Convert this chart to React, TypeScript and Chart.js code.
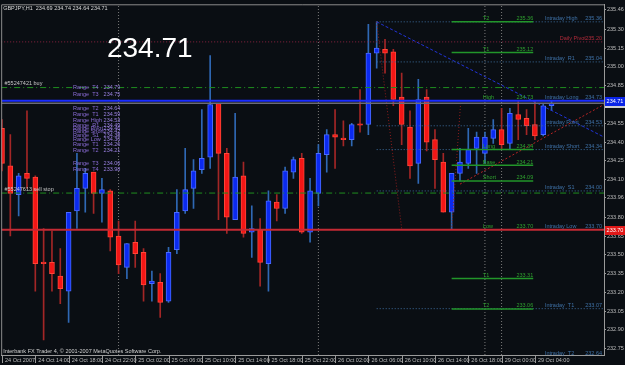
import React, { useEffect, useRef } from "react";
import { Chart, registerables } from "chart.js";

Chart.register(...registerables);

// ---------- text ----------
const symbolTitle = "GBPJPY,H1  234.69 234.74 234.64 234.71";
const bigPrice = "234.71";
const copyright = "Interbank FX Trader 4, © 2001-2007 MetaQuotes Software Corp.";

// ---------- candles (H1, bar index 0 = 24 Oct 10:00) ----------
const opens = [
  234.51, 234.21, 233.98, 234.15, 234.12, 233.44, 233.44, 233.33, 233.21, 233.85,
  234.03, 234.16, 233.99, 234.01, 233.65, 233.40, 233.60, 233.52, 233.27, 233.28,
  233.13, 233.54, 233.85, 234.03, 234.18, 234.28, 234.71, 234.31, 233.78, 234.13,
  233.68, 233.70, 233.43, 233.92, 233.87, 234.16, 234.27, 233.68, 233.99, 234.30,
  234.46, 234.43, 234.42, 234.545, 234.54, 235.11, 235.14, 235.12, 234.76, 234.52,
  234.23, 234.76, 234.42, 234.24, 233.84, 234.15, 234.23, 234.35, 234.31, 234.43,
  234.50, 234.39, 234.62, 234.59, 234.54, 234.46, 234.69,
];
const highs = [
  234.58, 234.46, 234.15, 234.65, 234.13, 233.71, 233.69, 233.55, 233.84, 234.31,
  234.19, 234.16, 234.11, 234.02, 233.77, 233.59, 233.77, 233.55, 233.37, 233.35,
  233.56, 234.02, 234.35, 234.26, 234.66, 235.09, 234.71, 234.35, 234.63, 234.24,
  233.89, 233.79, 234.01, 233.98, 234.20, 234.28, 234.31, 234.11, 234.38, 234.50,
  234.66, 234.57, 234.55, 234.82, 235.34, 235.36, 235.22, 235.14, 234.95, 234.65,
  234.90, 234.82, 234.50, 234.31, 234.15, 234.35, 234.51, 234.48, 234.48, 234.58,
  234.67, 234.67, 234.73, 234.66, 234.73, 234.71, 234.73,
];
const lows = [
  234.17, 233.65, 233.81, 234.03, 233.21, 232.82, 233.21, 233.11, 232.96, 233.71,
  233.84, 233.83, 233.76, 233.53, 233.35, 233.31, 233.40, 233.13, 233.13, 233.00,
  233.12, 233.51, 233.83, 233.87, 234.15, 234.19, 233.78, 233.67, 233.78, 233.64,
  233.48, 233.25, 233.21, 233.77, 233.83, 234.11, 233.67, 233.60, 233.89, 234.16,
  234.19, 234.37, 234.37, 234.48, 234.46, 234.99, 234.95, 234.69, 234.38, 234.11,
  234.07, 234.33, 234.03, 233.84, 233.70, 234.09, 234.19, 234.15, 234.23, 234.39,
  234.34, 234.34, 234.42, 234.46, 234.42, 234.45, 234.65,
];
const closes = [
  234.23, 233.99, 234.13, 234.11, 233.43, 233.43, 233.35, 233.23, 233.84, 234.03,
  234.15, 233.99, 234.02, 233.64, 233.42, 233.59, 233.51, 233.26, 233.29, 233.12,
  233.52, 233.84, 234.02, 234.17, 234.27, 234.70, 234.31, 233.80, 234.12, 233.67,
  233.71, 233.44, 233.93, 233.87, 234.17, 234.26, 233.68, 234.01, 234.31, 234.46,
  234.44, 234.42, 234.54, 234.535, 235.11, 235.15, 235.11, 234.74, 234.54, 234.21,
  234.74, 234.40, 234.26, 233.84, 234.15, 234.24, 234.34, 234.44, 234.44, 234.50,
  234.38, 234.63, 234.58, 234.53, 234.45, 234.69, 234.71,
];

// ---------- axes ----------
const xTickIndex = [0, 4, 8, 12, 16, 20, 24, 28, 32, 36, 40, 44, 48, 52, 56, 60, 64];
const xTickText = [
  "24 Oct 2007", "24 Oct 14:00", "24 Oct 18:00", "24 Oct 22:00",
  "25 Oct 02:00", "25 Oct 06:00", "25 Oct 10:00", "25 Oct 14:00",
  "25 Oct 18:00", "25 Oct 22:00", "26 Oct 02:00", "26 Oct 06:00",
  "26 Oct 10:00", "26 Oct 14:00", "26 Oct 18:00", "29 Oct 00:00", "29 Oct 04:00",
];
const yTickValues = [
  235.46, 235.30, 235.15, 235.00, 234.85, 234.70, 234.55, 234.40, 234.25, 234.10,
  233.96, 233.80, 233.65, 233.50, 233.35, 233.20, 233.05, 232.90, 232.75,
];
const separatorIndex = [14, 38, 58, 60];

// ---------- levels ----------
const bidPrice = 234.71;
const longLevel = 234.73;
const lowLevel = 233.70;
const dailyPivot = 235.20;
const dailyPivotText = "235.20";
const orderBuyPrice = 234.835;
const orderSellStopPrice = 233.993;
const orderBuyText = "#55247421 buy";
const orderSellStopText = "#55247613 sell stop";

const intradayNames = ["Intraday High", "Intraday  R1", "Intraday Long", "Intraday Point", "Intraday Short", "Intraday  S1", "Intraday Low", "Intraday  T1", "Intraday  T2"];
const intradayPrices = [235.36, 235.04, 234.73, 234.53, 234.34, 234.01, 233.70, 233.07, 232.69];
const intradayTexts = ["235.36", "235.04", "234.73", "234.53", "234.34", "234.00", "233.70", "233.07", "232.64"];
const intradayDotted = [true, true, false, true, true, true, false, true, false];

const targetNames = ["T2", "T1", "High", "Long", "Base", "Short", "Low", "T1", "T2"];
const targetPrices = [235.36, 235.115, 234.73, 234.34, 234.215, 234.09, 233.70, 233.31, 233.067];
const targetTexts = ["235.36", "235.12", "234.73", "234.34", "234.21", "234.09", "233.70", "233.31", "233.06"];
const targetHasLine = [true, true, false, true, true, true, false, true, true];

const rangeNames = ["Range  T4", "Range  T3", "Range  T2", "Range  T1", "Range High", "Range  R1", "Range Pivot", "Range Short", "Range  S1", "Range Low", "Range  T1", "Range  T2", "Range  T3", "Range  T4"];
const rangeTexts = ["234.79", "234.75", "234.64", "234.59", "234.53", "234.49", "234.46", "234.42", "234.38", "234.36", "234.26", "234.21", "234.06", "233.98"];
const rangePrices = [234.834, 234.776, 234.670, 234.624, 234.576, 234.536, 234.508, 234.481, 234.449, 234.421, 234.384, 234.332, 234.228, 234.181];

// trend / zigzag lines: [startIndex, startPrice, endIndex, endPrice]
const blueTrend = [45, 235.36, 72.3, 234.44];
const redTrend = [55, 234.064, 72.3, 234.70];
const zigA = [45, 235.36, 48, 233.71];
const zigB = [54, 233.70, 55.1, 234.73];

const X_MIN = -0.1;
const X_MAX = 72.3;
const Y_MIN = 232.7;
const Y_MAX = 235.5;

const FONT = "'Liberation Sans', Arial, sans-serif";

function seg(x1: number, y1: number, x2: number, y2: number, color: string, width: number, dash: number[], order: number) {
  return {
    type: "line" as const,
    data: [{ x: x1, y: y1 }, { x: x2, y: y2 }],
    borderColor: color,
    borderWidth: width,
    borderDash: dash,
    pointRadius: 0,
    pointHoverRadius: 0,
    fill: false,
    tension: 0,
    order,
  };
}

export default function App() {
  const ref = useRef<HTMLCanvasElement>(null);

  useEffect(() => {
    const canvas = ref.current;
    if (!canvas) return;

    const up = closes.map((c, i) => c >= opens[i]);
    const bodyFill = up.map((u) => (u ? "#0b2af0" : "#f31616"));
    const bodyEdge = up.map((u) => (u ? "#4a6aff" : "#ff4638"));
    const wickCol = up.map((u) => (u ? "#2f68b4" : "#a32626"));

    const bodies = opens.map((o, i) => {
      const c = closes[i];
      if (Math.abs(o - c) < 0.012) {
        const m = (o + c) / 2;
        return { x: i, y: [m - 0.006, m + 0.006] };
      }
      return { x: i, y: [o, c] };
    });
    const wicks = lows.map((l, i) => ({ x: i, y: [l, highs[i]] }));

    const datasets: any[] = [];
    // separators (behind)
    separatorIndex.forEach((s) => datasets.push(seg(s, Y_MIN, s, Y_MAX, "#7a7a7a", 1, [1, 2], 9)));
    datasets.push({
      type: "bar", data: wicks, backgroundColor: wickCol, borderWidth: 0,
      barThickness: 1, grouped: false, order: 6,
    });
    datasets.push({
      type: "bar", data: bodies, backgroundColor: bodyFill, borderColor: bodyEdge,
      borderWidth: 1, borderSkipped: false, barThickness: 5, grouped: false, order: 5,
    });
    // full-width levels
    datasets.push(seg(X_MIN, dailyPivot, X_MAX, dailyPivot, "#8c2440", 1, [1, 2], 2));
    datasets.push(seg(X_MIN, orderBuyPrice, X_MAX, orderBuyPrice, "#1f8f1f", 1, [6, 3, 1, 3], 2));
    datasets.push(seg(X_MIN, orderSellStopPrice, X_MAX, orderSellStopPrice, "#1f8f1f", 1, [6, 3, 1, 3], 2));
    datasets.push(seg(X_MIN, bidPrice, X_MAX, bidPrice, "#6a6a78", 1.5, [], 2));
    datasets.push(seg(X_MIN, longLevel, X_MAX, longLevel, "#1a2cff", 2, [], 1));
    datasets.push(seg(X_MIN, lowLevel, X_MAX, lowLevel, "#c42a34", 2, [], 1));
    // intraday dotted levels
    intradayPrices.forEach((p, k) => {
      if (intradayDotted[k]) datasets.push(seg(45, p, X_MAX, p, "#3d6d9d", 1, [1, 2], 3));
    });
    // target green lines
    targetPrices.forEach((p, k) => {
      if (targetHasLine[k]) datasets.push(seg(54, p, 63.8, p, "#22962a", 1.5, [], 2));
    });
    // trend lines
    datasets.push(seg(blueTrend[0], blueTrend[1], blueTrend[2], blueTrend[3], "#2234d8", 1, [3, 2], 2));
    datasets.push(seg(redTrend[0], redTrend[1], redTrend[2], redTrend[3], "#b82424", 1, [2, 2], 2));
    datasets.push(seg(zigA[0], zigA[1], zigA[2], zigA[3], "#8e1c1c", 1, [1, 2], 2));
    datasets.push(seg(zigB[0], zigB[1], zigB[2], zigB[3], "#8e1c1c", 1, [1, 2], 2));

    const bgPlugin = {
      id: "bg",
      beforeDraw(chart: any) {
        const { ctx, width, height } = chart;
        ctx.save();
        ctx.fillStyle = "#0a0e13";
        ctx.fillRect(0, 0, width, height);
        ctx.restore();
      },
    };

    const overlayPlugin = {
      id: "overlay",
      afterDraw(chart: any) {
        const { ctx, chartArea: a, scales } = chart;
        const X = (v: number) => scales.x.getPixelForValue(v);
        const Y = (v: number) => scales.y.getPixelForValue(v);
        ctx.save();
        // frame
        ctx.strokeStyle = "#8a8a8a";
        ctx.lineWidth = 1;
        ctx.beginPath();
        ctx.moveTo(a.left + 0.5, a.bottom);
        ctx.lineTo(a.left + 0.5, a.top + 0.5);
        ctx.lineTo(a.right, a.top + 0.5);
        ctx.stroke();

        const txt = (s: string, px: number, py: number, color: string, size: number, align: CanvasTextAlign = "left", base: CanvasTextBaseline = "bottom") => {
          ctx.font = `${size}px ${FONT}`;
          ctx.fillStyle = color;
          ctx.textAlign = align;
          ctx.textBaseline = base;
          ctx.fillText(s, px, py);
        };

        // x-axis tick marks
        ctx.strokeStyle = "#9a9a9a";
        xTickIndex.forEach((i) => {
          const px = Math.round(X(i)) + 0.5;
          ctx.beginPath();
          ctx.moveTo(px, a.bottom);
          ctx.lineTo(px, a.bottom + 8);
          ctx.stroke();
        });

        // title & copyright
        txt(symbolTitle, a.left + 2, a.top + 4, "#d8d8d8", 5.5, "left", "middle");
        txt(copyright, a.left + 2, a.bottom - 4, "#d0d0d0", 5.5, "left", "middle");
        // big price
        txt(bigPrice, X(12.6), Y(235.143), "#ffffff", 28, "left", "middle");

        // order labels
        txt(orderBuyText, X(0.3), Y(orderBuyPrice) - 1, "#c8c8c8", 5.5);
        txt(orderSellStopText, X(0.3), Y(orderSellStopPrice) - 1, "#c8c8c8", 5.5);

        // range labels
        rangeNames.forEach((n, k) => {
          txt(n, X(8.52), Y(rangePrices[k]), "#8a6cd6", 5.5, "left", "middle");
          txt(rangeTexts[k], X(12.2), Y(rangePrices[k]), "#9a80e0", 5.5, "left", "middle");
        });

        // target labels (green)
        targetNames.forEach((n, k) => {
          txt(n, X(57.75), Y(targetPrices[k]) - 0.5, "#2fa02f", 5.5);
          txt(targetTexts[k], X(63.8), Y(targetPrices[k]) - 0.5, "#2fa02f", 5.5, "right");
        });

        // intraday labels
        intradayNames.forEach((n, k) => {
          txt(n, X(65.2), Y(intradayPrices[k]) - 0.5, "#3f72a8", 5.5);
          txt(intradayTexts[k], a.right - 2, Y(intradayPrices[k]) - 0.5, "#3f72a8", 5.5, "right");
        });
        // daily pivot
        txt("Daily Pivot", X(67.0), Y(dailyPivot) - 0.5, "#b02a3a", 5.5);
        txt(dailyPivotText, a.right - 2, Y(dailyPivot) - 0.5, "#b02a3a", 5.5, "right");

        // axis price boxes
        const box = (p: number, fill: string, s: string) => {
          const cy = Math.round(Y(p));
          ctx.fillStyle = fill;
          ctx.fillRect(a.right + 1, cy - 4, 20, 9);
          txt(s, a.right + 11, cy + 0.5, "#ffffff", 5.5, "center", "middle");
        };
        ctx.fillStyle = "#d0d0d0";
        ctx.fillRect(a.right + 1, Math.round(Y(bidPrice)) + 1, 20, 4);
        box(longLevel, "#0a24e8", bidPrice.toFixed(2));
        box(lowLevel, "#e01818", lowLevel.toFixed(2));
        ctx.restore();
      },
    };

    const chart = new Chart(canvas, {
      type: "bar",
      data: { datasets },
      options: {
        responsive: false,
        maintainAspectRatio: false,
        animation: false,
        events: [],
        layout: { padding: { top: 2, left: 1, right: 0, bottom: 0 } },
        plugins: { legend: { display: false }, tooltip: { enabled: false } },
        scales: {
          x: {
            type: "linear",
            min: X_MIN,
            max: X_MAX,
            offset: false,
            grid: { display: true, drawOnChartArea: false, drawTicks: false, offset: false },
            border: { display: true, color: "#9a9a9a" },
            ticks: {
              autoSkip: false,
              maxRotation: 0,
              minRotation: 0,
              align: "start",
              padding: 2,
              color: "#bdbdbd",
              font: { size: 5.5, family: FONT },
              callback: (v: any) => {
                const k = xTickIndex.indexOf(Number(v));
                return k >= 0 ? "  " + xTickText[k] : "";
              },
            },
            afterBuildTicks: (s: any) => {
              s.ticks = xTickIndex.map((v) => ({ value: v }));
            },
            afterFit: (s: any) => {
              s.height = 10;
            },
          } as any,
          y: {
            type: "linear",
            position: "right",
            min: Y_MIN,
            max: Y_MAX,
            beginAtZero: false,
            grid: { display: true, drawOnChartArea: false, drawTicks: true, tickLength: 2, color: "#9a9a9a" },
            border: { display: true, color: "#9a9a9a" },
            ticks: {
              padding: 1,
              color: "#bdbdbd",
              font: { size: 5.5, family: FONT },
              callback: (v: any) => Number(v).toFixed(2),
            },
            afterBuildTicks: (s: any) => {
              s.ticks = yTickValues.map((v) => ({ value: v }));
            },
            afterFit: (s: any) => {
              s.width = 21;
            },
          } as any,
        },
      } as any,
      plugins: [bgPlugin, overlayPlugin],
    });

    return () => chart.destroy();
  }, []);

  return (
    <div style={{ position: "absolute", left: 0, top: 0, width: 625, height: 365, background: "#0a0e13" }}>
      <canvas ref={ref} width={625} height={365} style={{ display: "block", width: 625, height: 365 }} />
    </div>
  );
}
